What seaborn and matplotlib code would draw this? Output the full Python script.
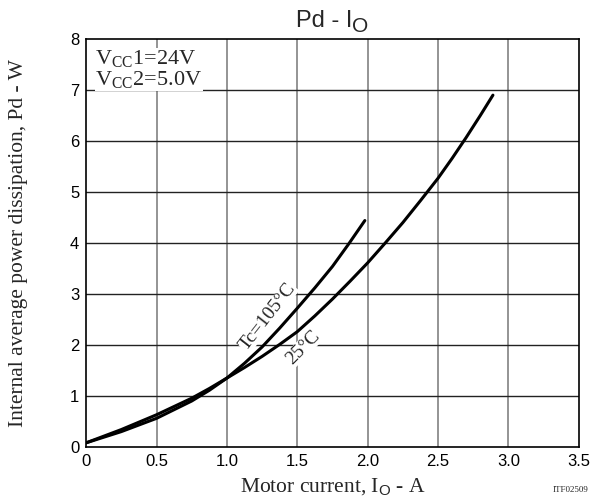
import pandas as pd
import matplotlib.pyplot as plt
import seaborn as sns

# Pd w funkcji pradu silnika
io_25 = [0.0, 0.25, 0.5, 0.75, 0.875, 1.0, 1.125, 1.25, 1.375, 1.5, 1.625, 1.75, 1.875,
         2.0, 2.125, 2.25, 2.375, 2.5, 2.6, 2.7, 2.8, 2.89]
pd_25 = [0.08, 0.34, 0.63, 0.955, 1.145, 1.35, 1.557, 1.775, 2.01, 2.26, 2.57, 2.9, 3.25,
         3.61, 4.0, 4.4, 4.83, 5.27, 5.66, 6.07, 6.5, 6.9]
io_105 = [0.0, 0.25, 0.5, 0.75, 0.875, 1.0, 1.125, 1.25, 1.375, 1.5, 1.625, 1.75, 1.865, 1.98]
pd_105 = [0.08, 0.3, 0.56, 0.9, 1.11, 1.35, 1.64, 1.96, 2.33, 2.72, 3.12, 3.54, 3.98, 4.44]

x_ticks = [0, 0.5, 1.0, 1.5, 2.0, 2.5, 3.0, 3.5]
x_tick_labels = ["0", "0.5", "1.0", "1.5", "2.0", "2.5", "3.0", "3.5"]
y_ticks = [0, 1, 2, 3, 4, 5, 6, 7, 8]


def main():
    df = pd.concat([
        pd.DataFrame({"Io": io_25, "Pd": pd_25, "Tc": "25"}),
        pd.DataFrame({"Io": io_105, "Pd": pd_105, "Tc": "105"}),
    ])

    sns.set_theme(style="white")
    plt.rcParams['font.family'] = ['Liberation Sans', 'DejaVu Sans']
    plt.rcParams['mathtext.fontset'] = 'custom'
    plt.rcParams['mathtext.rm'] = 'Liberation Serif'
    plt.rcParams['mathtext.sf'] = 'Liberation Sans'

    fig = plt.figure(figsize=(5.9, 5.01), dpi=100)
    ax = fig.add_axes([0.146, 0.108, 0.835, 0.814])

    sns.lineplot(data=df, x="Io", y="Pd", units="Tc", estimator=None,
                 color="black", linewidth=2.2, sort=False, ax=ax, legend=False)

    ax.set_xlim(0, 3.5)
    ax.set_ylim(0, 8)
    ax.set_xticks(x_ticks)
    ax.set_xticklabels(x_tick_labels)
    ax.set_yticks(y_ticks)
    ax.tick_params(axis="both", length=0, labelsize=12, pad=5, colors="black")

    # siatka: pionowe szare, poziome ciemne
    for xv in x_ticks[1:-1]:
        ax.axvline(xv, color="#777777", linewidth=1.1, zorder=0)
    for yv in y_ticks[1:-1]:
        ax.axhline(yv, color="#222222", linewidth=1.0, zorder=0)

    for s in ax.spines.values():
        s.set_color("black")
        s.set_linewidth(1.2)

    serif = ['Liberation Serif', 'DejaVu Serif']
    ax.set_xlabel("Motor current, I$_\\mathsf{O}$ - A", family=serif, fontsize=15.5, labelpad=6)
    ax.set_ylabel("Internal average power dissipation, Pd - W", family=serif, fontsize=15.5, labelpad=30)

    # tytul: "O" prawie pelnej wielkosci, obnizone
    fig.text(0.597, 0.946, "Pd - I", fontsize=17, ha="right", va="baseline")
    fig.text(0.597, 0.937, "O", fontsize=15, ha="left", va="baseline")

    ax.text(0.065, 7.82, "V$_\\mathregular{CC}$1=24V\nV$_\\mathregular{CC}$2=5.0V", family=serif,
            fontsize=16, va="top", ha="left", linespacing=0.95,
            bbox=dict(facecolor="white", edgecolor="none", pad=0.5))

    ax.text(1.29, 2.55, "Tc=105°C", family=serif, fontsize=14, rotation=52,
            ha="center", va="center",
            bbox=dict(facecolor="white", edgecolor="none", pad=0.2))
    ax.text(1.54, 1.94, "25°C", family=serif, fontsize=14, rotation=45,
            ha="center", va="center",
            bbox=dict(facecolor="white", edgecolor="none", pad=0.2))

    fig.text(0.997, 0.018, "ITF02509", family=serif, fontsize=6.5, ha="right")

    fig.savefig("out.png", dpi=100)
    plt.close(fig)


if __name__ == "__main__":
    main()
